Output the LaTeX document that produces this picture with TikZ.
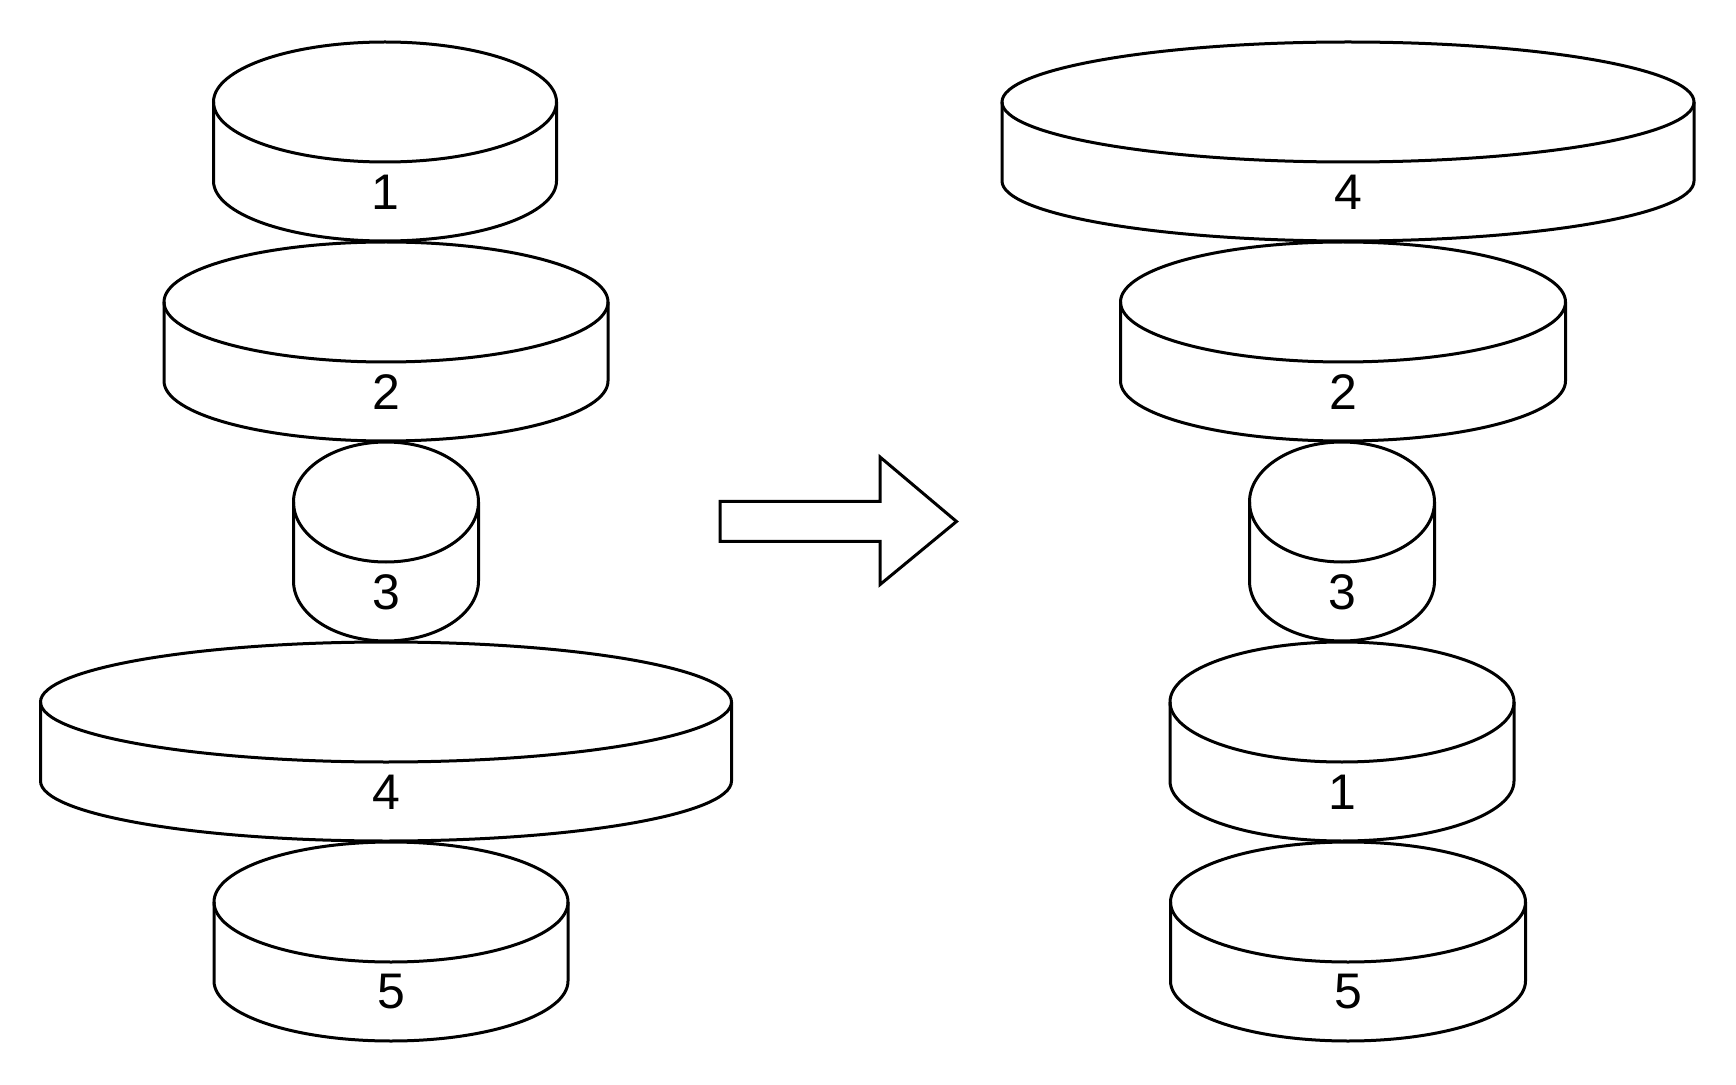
\documentclass[tikz,border=0pt]{standalone}
\usepackage{fontspec}
\setmainfont{Liberation Sans}
\tikzset{
  disk/.style={line width=1.5pt},
  disklabel/.style={font=\fontsize{25}{25}\selectfont, inner sep=0pt},
}
\begin{document}
\begin{tikzpicture}[x=0.5pt,y=0.5pt]
  \useasboundingbox (0,0) rectangle (1736,1084);
  % left stack
  \foreach \cx/\ty/\w/\lab in {385/1042/171.5/1, 386/842/222/2, 386/642/92.5/3, 386/442/345.5/4, 391/242/177/5}{
    \draw[disk] (\cx-\w,\ty-60) -- (\cx-\w,\ty-139) arc[start angle=180,end angle=360,x radius=\w,y radius=60] -- (\cx+\w,\ty-60);
    \draw[disk] (\cx,\ty-60) ellipse[x radius=\w,y radius=60];
    \node[disklabel] (L\lab) at (\cx,\ty-150) {\lab};
  }
  % right stack
  \foreach \cx/\ty/\w/\lab in {1348/1042/346/4, 1343/842/222.5/2, 1342/642/92.5/3, 1342/442/172/1, 1348/242/177.5/5}{
    \draw[disk] (\cx-\w,\ty-60) -- (\cx-\w,\ty-139) arc[start angle=180,end angle=360,x radius=\w,y radius=60] -- (\cx+\w,\ty-60);
    \draw[disk] (\cx,\ty-60) ellipse[x radius=\w,y radius=60];
    \node[disklabel] (R\lab) at (\cx,\ty-150) {\lab};
  }
  \draw[disk] (720,582.6) -- (880,582.6) -- (880,627) -- (956.5,562.5) -- (880,499.4) -- (880,542.6) -- (720,542.6) -- cycle;
\end{tikzpicture}
\end{document}
